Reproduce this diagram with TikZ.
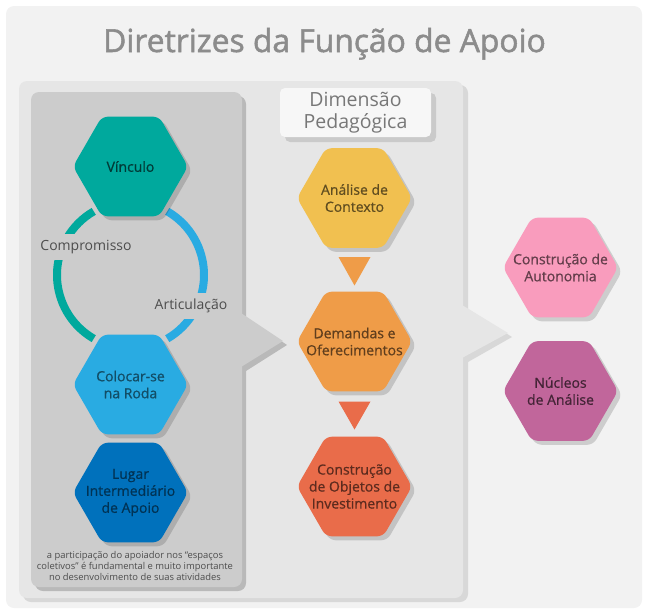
\documentclass[tikz,border=0pt]{standalone}
\usepackage{fontspec}
\setmainfont{Open Sans}
\newfontfamily\chudam[FakeBold=1.6]{Open Sans}
\newfontfamily\chuvua[FakeBold=0.7]{Open Sans}
\usepackage{xcolor}
\usepackage{tikz}
\usetikzlibrary{calc, shapes.geometric, shadows, positioning}

\definecolor{nenNgoai}{HTML}{F2F2F2}
\definecolor{nenGiua}{HTML}{E6E6E6}
\definecolor{nenTrai}{HTML}{CCCCCC}
\definecolor{bongNgoai}{HTML}{D8D8D8}
\definecolor{bongTrai}{HTML}{B9B9B9}
\definecolor{chuTieuDe}{HTML}{8C8C8C}
\definecolor{chuXam}{HTML}{4D4D4D}
\definecolor{cVinculo}{HTML}{00A99D}
\definecolor{cRoda}{HTML}{29ABE2}
\definecolor{cLugar}{HTML}{0071BC}
\definecolor{cAnalise}{HTML}{F1C050}
\definecolor{cDemandas}{HTML}{EF9C48}
\definecolor{cObjetos}{HTML}{E96C4A}
\definecolor{cAutonomia}{HTML}{F99CBD}
\definecolor{cNucleos}{HTML}{C1669B}

\begin{document}
\begin{tikzpicture}[x=1pt, y=-1pt,
    hexa/.style={regular polygon, regular polygon sides=6, minimum size=115pt,
      inner sep=0pt, rounded corners=6pt,
      drop shadow={shadow xshift=4pt, shadow yshift=-4pt, opacity=.15, fill=black}},
    chuHex/.style={align=center, font=\chuvua\fontsize{14}{17}\selectfont},
    chuVong/.style={fill=nenTrai, text=chuXam, inner xsep=2pt, inner ysep=6pt,
      font=\fontsize{14}{17}\selectfont}]
    \useasboundingbox (0,0) rectangle (650,613);
    % --- KHUNG NGOÀI VÀ TIÊU ĐỀ ---
    \fill[nenNgoai, rounded corners=8] (6,6) rectangle (642,608);
    \node[anchor=base, text=chuTieuDe, font=\chudam\fontsize{31.8}{34}\selectfont] (tieude) at (324.5,52) {Diretrizes da Função de Apoio};

    % Khung giữa (xám nhạt) có mũi nhọn bên phải
    \fill[bongNgoai, rounded corners=8] (23,85) rectangle (468,602);
    \fill[bongNgoai] (468,309) -- (512,337) -- (468,362) -- cycle;
    \fill[nenGiua, rounded corners=8] (19,81) rectangle (463,598);
    \fill[nenGiua] (462,305) -- (508,333) -- (462,358) -- cycle;

    % Khung trái (xám đậm) có mũi nhọn
    \fill[bongTrai, rounded corners=8] (35,96) rectangle (246,591);
    \fill[bongTrai] (246,317) -- (287,345) -- (246,371) -- cycle;
    \fill[nenTrai, rounded corners=8] (31,92) rectangle (242,587);
    \fill[nenTrai] (241,313) -- (283,341) -- (241,367) -- cycle;

    % Ô "Dimensão Pedagógica"
    \node[fill=nenNgoai!60!white, rounded corners=5pt, minimum width=151pt, minimum height=49pt,
      drop shadow={shadow xshift=5pt, shadow yshift=-5pt, opacity=.12, fill=black},
      align=center, text=chuTieuDe!85!black, font=\fontsize{19.5}{22}\selectfont] (dimensao) at (355.5,112.5) {Dimensão\\Pedagógica};

    % --- VÒNG TRÒN GIỮA HAI LỤC GIÁC ---
    \coordinate (tamvong) at (130.5,275);
    \draw[cVinculo, line width=8pt] (tamvong) ++(120:73.5) arc[start angle=120, end angle=240, radius=73.5];
    \draw[cRoda, line width=8pt] (tamvong) ++(-60:73.5) arc[start angle=-60, end angle=60, radius=73.5];
    \node[chuVong] (compromisso) at (86,247) {Compromisso};
    \node[chuVong] (articulacao) at (191,306) {Articulação};

    % --- CÁC LỤC GIÁC ---
    \node[hexa, fill=cVinculo] (vinculo) at (130.5,166.5) {};
    \node[hexa, fill=cRoda] (roda) at (130.5,384.5) {};
    \node[hexa, fill=cLugar] (lugar) at (130.5,492.5) {};
    \node[hexa, fill=cAnalise] (analise) at (354.5,198) {};
    \node[hexa, fill=cDemandas] (demandas) at (354.5,341.5) {};
    \node[hexa, fill=cObjetos] (objetos) at (354.5,486.5) {};
    \node[hexa, fill=cAutonomia] (autonomia) at (560.5,267.5) {};
    \node[hexa, fill=cNucleos] (nucleos) at (560.5,391) {};

    % Chữ trong lục giác
    \node[chuHex, text=cVinculo!35!black] at (vinculo) {Vínculo};
    \node[chuHex, text=cRoda!45!black] at (roda) {Colocar-se\\na Roda};
    \node[chuHex, text=cLugar!45!black] at (lugar) {Lugar\\Intermediário\\de Apoio};
    \node[chuHex, text=cAnalise!40!black] at (analise) {Análise de\\Contexto};
    \node[chuHex, text=cDemandas!40!black] at (demandas) {Demandas e\\Oferecimentos};
    \node[chuHex, text=cObjetos!40!black] at (objetos) {Construção\\de Objetos de\\Investimento};
    \node[chuHex, text=cAutonomia!40!black] at (autonomia) {Construção de\\Autonomia};
    \node[chuHex, text=cNucleos!35!black] at (nucleos) {Núcleos\\de Análise};

    % Tam giác nối giữa các bước
    \fill[cDemandas] ($(analise.south)+(-16,9)$) -- ($(analise.south)+(16,9)$) -- ($(demandas.north)+(0,-6)$) -- cycle;
    \fill[cObjetos] ($(demandas.south)+(-16,10)$) -- ($(demandas.south)+(16,10)$) -- ($(objetos.north)+(0,-7)$) -- cycle;

    % Ghi chú dưới cùng
    \node[align=center, text=chuXam, font=\fontsize{9.4}{11}\selectfont] (ghichu) at (135,566) {a participação do apoiador nos “espaços\\coletivos” é fundamental e muito importante\\no desenvolvimento de suas atividades};
\end{tikzpicture}
\end{document}
